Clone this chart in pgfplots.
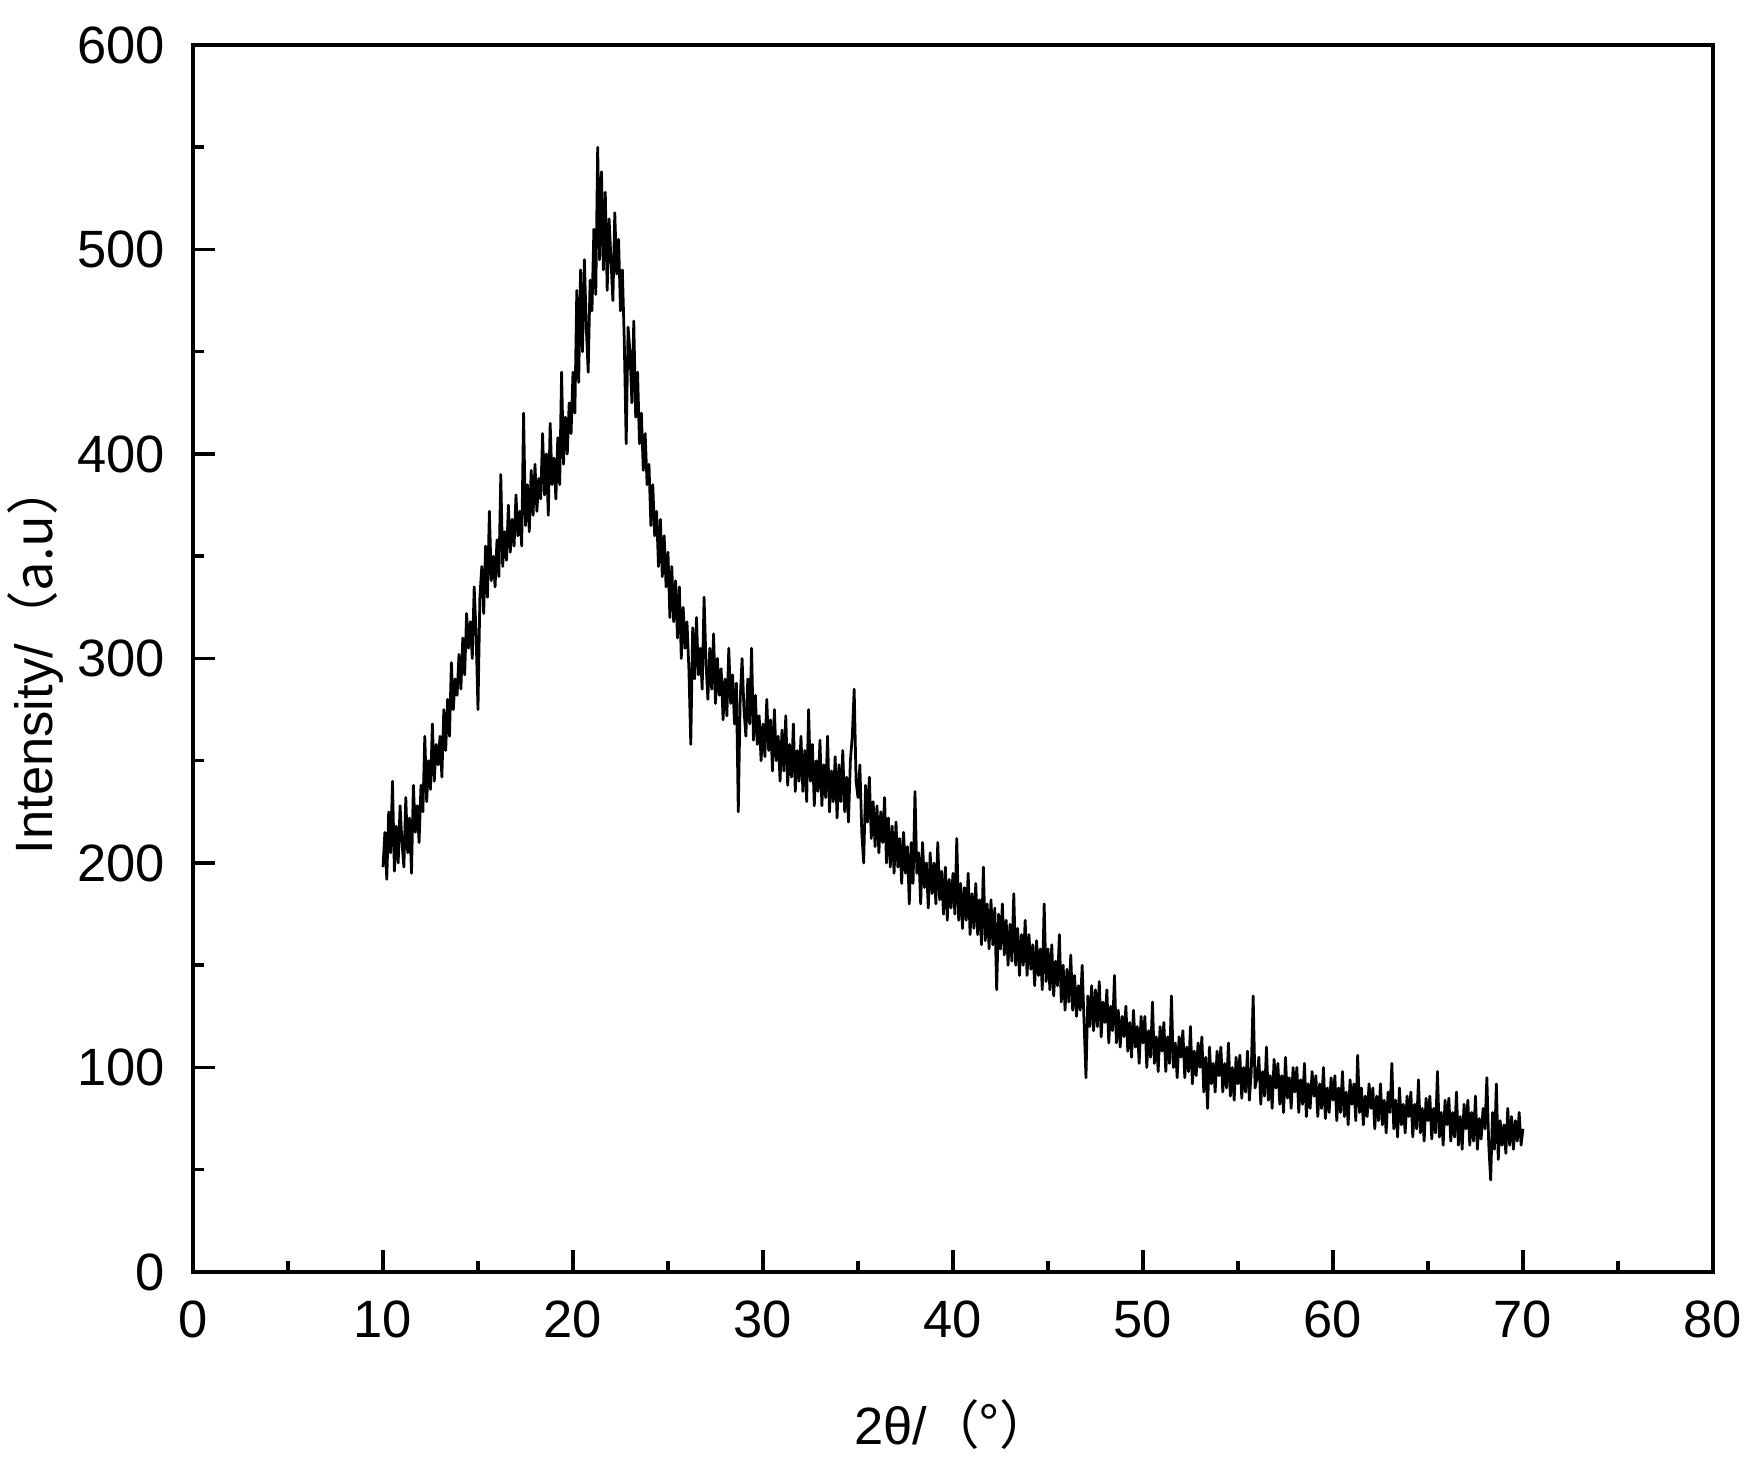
\documentclass[border=0pt]{standalone}
\usepackage{fontspec}
\setmainfont{Liberation Sans}
\newfontfamily\cjk{Noto Sans CJK SC}
\usepackage{pgfplots}
\pgfplotsset{compat=1.18}

% XRD scan (step 0.1 deg)
\pgfplotstableread{
x y
10.0 198
10.1 215
10.2 192
10.3 225
10.4 205
10.5 240
10.6 196
10.7 218
10.8 200
10.9 228
11.0 210
11.1 198
11.2 232
11.3 205
11.4 222
11.5 195
11.6 238
11.7 215
11.8 228
11.9 210
12.0 238
12.1 225
12.2 262
12.3 230
12.4 250
12.5 236
12.6 268
12.7 240
12.8 258
12.9 248
13.0 262
13.1 242
13.2 275
13.3 255
13.4 280
13.5 262
13.6 298
13.7 275
13.8 290
13.9 282
14.0 302
14.1 285
14.2 310
14.3 292
14.4 322
14.5 305
14.6 318
14.7 300
14.8 335
14.9 312
15.0 275
15.1 330
15.2 345
15.3 322
15.4 355
15.5 330
15.6 372
15.7 338
15.8 350
15.9 335
16.0 358
16.1 340
16.2 390
16.3 345
16.4 362
16.5 348
16.6 375
16.7 352
16.8 368
16.9 355
17.0 380
17.1 360
17.2 372
17.3 355
17.4 420
17.5 365
17.6 385
17.7 362
17.8 392
17.9 370
18.0 395
18.1 372
18.2 388
18.3 378
18.4 410
18.5 380
18.6 400
18.7 370
18.8 415
18.9 385
19.0 398
19.1 378
19.2 408
19.3 385
19.4 440
19.5 395
19.6 418
19.7 400
19.8 425
19.9 410
20.0 440
20.1 420
20.2 480
20.3 435
20.4 490
20.5 450
20.6 495
20.7 462
20.8 440
20.9 485
21.0 470
21.1 510
21.2 478
21.3 550
21.4 495
21.5 538
21.6 490
21.7 528
21.8 480
21.9 515
22.0 495
22.1 475
22.2 518
22.3 488
22.4 505
22.5 470
22.6 490
22.7 455
22.8 405
22.9 462
23.0 450
23.1 425
23.2 465
23.3 418
23.4 440
23.5 405
23.6 420
23.7 392
23.8 410
23.9 385
24.0 395
24.1 365
24.2 385
24.3 360
24.4 372
24.5 345
24.6 368
24.7 340
24.8 360
24.9 335
25.0 352
25.1 320
25.2 345
25.3 318
25.4 338
25.5 310
25.6 335
25.7 300
25.8 325
25.9 305
26.0 318
26.1 295
26.2 258
26.3 315
26.4 290
26.5 320
26.6 292
26.7 305
26.8 285
26.9 330
27.0 298
27.1 280
27.2 305
27.3 285
27.4 312
27.5 278
27.6 300
27.7 282
27.8 295
27.9 270
28.0 290
28.1 272
28.2 305
28.3 278
28.4 292
28.5 268
28.6 288
28.7 225
28.8 280
28.9 300
29.0 275
29.1 262
29.2 290
29.3 268
29.4 305
29.5 260
29.6 282
29.7 258
29.8 272
29.9 250
30.0 268
30.1 252
30.2 280
30.3 255
30.4 270
30.5 245
30.6 275
30.7 250
30.8 262
30.9 240
31.0 265
31.1 245
31.2 272
31.3 238
31.4 258
31.5 242
31.6 268
31.7 235
31.8 255
31.9 240
32.0 262
32.1 235
32.2 255
32.3 230
32.4 275
32.5 240
32.6 258
32.7 228
32.8 250
32.9 235
33.0 260
33.1 228
33.2 248
33.3 232
33.4 262
33.5 225
33.6 245
33.7 230
33.8 252
33.9 222
34.0 248
34.1 230
34.2 255
34.3 225
34.4 242
34.5 220
34.6 250
34.7 262
34.8 285
34.9 240
35.0 232
35.1 248
35.2 215
35.3 200
35.4 238
35.5 220
35.6 242
35.7 212
35.8 230
35.9 208
36.0 228
36.1 205
36.2 225
36.3 210
36.4 232
36.5 200
36.6 222
36.7 198
36.8 218
36.9 195
37.0 220
37.1 198
37.2 212
37.3 190
37.4 215
37.5 195
37.6 208
37.7 180
37.8 210
37.9 190
38.0 235
38.1 195
38.2 205
38.3 180
38.4 210
38.5 188
38.6 200
38.7 178
38.8 205
38.9 185
39.0 200
39.1 180
39.2 210
39.3 182
39.4 196
39.5 175
39.6 198
39.7 172
39.8 192
39.9 178
40.0 195
40.1 175
40.2 212
40.3 172
40.4 190
40.5 168
40.6 188
40.7 172
40.8 195
40.9 165
41.0 185
41.1 168
41.2 190
41.3 165
41.4 182
41.5 160
41.6 198
41.7 162
41.8 180
41.9 158
42.0 182
42.1 160
42.2 178
42.3 138
42.4 175
42.5 158
42.6 180
42.7 155
42.8 172
42.9 150
43.0 170
43.1 152
43.2 185
43.3 150
43.4 168
43.5 145
43.6 165
43.7 150
43.8 172
43.9 145
44.0 165
44.1 148
44.2 160
44.3 140
44.4 162
44.5 145
44.6 158
44.7 138
44.8 180
44.9 142
45.0 158
45.1 138
45.2 160
45.3 135
45.4 152
45.5 140
45.6 165
45.7 132
45.8 150
45.9 128
46.0 148
46.1 132
46.2 155
46.3 128
46.4 145
46.5 125
46.6 140
46.7 128
46.8 150
46.9 122
47.0 95
47.1 135
47.2 120
47.3 140
47.4 118
47.5 138
47.6 120
47.7 142
47.8 115
47.9 132
48.0 122
48.1 138
48.2 112
48.3 130
48.4 118
48.5 145
48.6 112
48.7 128
48.8 110
48.9 125
49.0 115
49.1 130
49.2 108
49.3 122
49.4 105
49.5 128
49.6 110
49.7 120
49.8 102
49.9 125
50.0 112
50.1 125
50.2 100
50.3 118
50.4 105
50.5 132
50.6 102
50.7 115
50.8 98
50.9 120
51.0 108
51.1 122
51.2 98
51.3 115
51.4 102
51.5 135
51.6 100
51.7 112
51.8 95
51.9 115
52.0 105
52.1 118
52.2 95
52.3 110
52.4 98
52.5 120
52.6 92
52.7 108
52.8 96
52.9 112
53.0 100
53.1 115
53.2 88
53.3 105
53.4 80
53.5 110
53.6 92
53.7 102
53.8 88
53.9 108
54.0 96
54.1 110
54.2 88
54.3 102
54.4 90
54.5 112
54.6 86
54.7 100
54.8 84
54.9 105
55.0 92
55.1 106
55.2 85
55.3 100
55.4 88
55.5 108
55.6 84
55.7 98
55.8 135
55.9 90
56.0 95
56.1 105
56.2 82
56.3 98
56.4 86
56.5 110
56.6 84
56.7 96
56.8 80
56.9 104
57.0 90
57.1 102
57.2 82
57.3 96
57.4 78
57.5 105
57.6 85
57.7 95
57.8 80
57.9 100
58.0 88
58.1 100
58.2 78
58.3 94
58.4 82
58.5 102
58.6 76
58.7 92
58.8 80
58.9 98
59.0 86
59.1 96
59.2 76
59.3 92
59.4 80
59.5 100
59.6 75
59.7 90
59.8 78
59.9 95
60.0 84
60.1 96
60.2 74
60.3 90
60.4 78
60.5 98
60.6 76
60.7 88
60.8 72
60.9 94
61.0 82
61.1 92
61.2 74
61.3 106
61.4 78
61.5 90
61.6 72
61.7 86
61.8 76
61.9 92
62.0 80
62.1 90
62.2 70
62.3 86
62.4 74
62.5 92
62.6 72
62.7 84
62.8 68
62.9 88
63.0 78
63.1 102
63.2 70
63.3 84
63.4 66
63.5 90
63.6 72
63.7 82
63.8 68
63.9 86
64.0 76
64.1 88
64.2 66
64.3 82
64.4 70
64.5 94
64.6 68
64.7 80
64.8 64
64.9 85
65.0 74
65.1 86
65.2 65
65.3 80
65.4 68
65.5 98
65.6 66
65.7 78
65.8 62
65.9 84
66.0 72
66.1 85
66.2 64
66.3 78
66.4 66
66.5 88
66.6 62
66.7 76
66.8 60
66.9 82
67.0 70
67.1 84
67.2 62
67.3 78
67.4 64
67.5 86
67.6 60
67.7 75
67.8 65
67.9 80
68.0 70
68.1 95
68.2 62
68.3 45
68.4 78
68.5 60
68.6 92
68.7 55
68.8 74
68.9 62
69.0 72
69.1 58
69.2 80
69.3 62
69.4 76
69.5 60
69.6 74
69.7 64
69.8 78
69.9 62
70.0 70
}\xrd

\begin{document}
\begin{tikzpicture}
\useasboundingbox (-38.6pt,-37.4pt) rectangle (312.8pt,254.4pt);
\begin{axis}[
    at={(0,0)}, anchor=south west,
    scale only axis,
    width=304pt, height=245.4pt,
    xmin=0, xmax=80, ymin=0, ymax=600,
    xtick={0,10,...,80}, ytick={0,100,...,600},
    minor x tick num=1, minor y tick num=1,
    xtick pos=bottom, ytick pos=left,
    tick align=inside,
    major tick length=4.4pt, minor tick length=2.2pt,
    axis line style={line width=0.7pt},
    every tick/.style={black, line width=0.7pt},
    /pgf/number format/assume math mode=true,
    tick label style={font=\fontsize{10.5}{12}\selectfont},
    xticklabel style={yshift=-2.2pt},
    yticklabel style={xshift=-2.1pt},
    label style={font=\fontsize{10.5}{12}\selectfont},
    xlabel={2θ/\cjk{（°）}},
    ylabel={Intensity/\cjk{（}a.u\cjk{）}},
    xlabel style={at={(axis description cs:0.5,0)}, anchor=center, yshift=-30.6pt},
    ylabel style={at={(axis description cs:0,0.5)}, anchor=center, yshift=31.6pt},
]
\addplot[black, line width=0.55pt, line join=round, no marks] table[x=x, y=y] {\xrd};
\end{axis}
\end{tikzpicture}
\end{document}
